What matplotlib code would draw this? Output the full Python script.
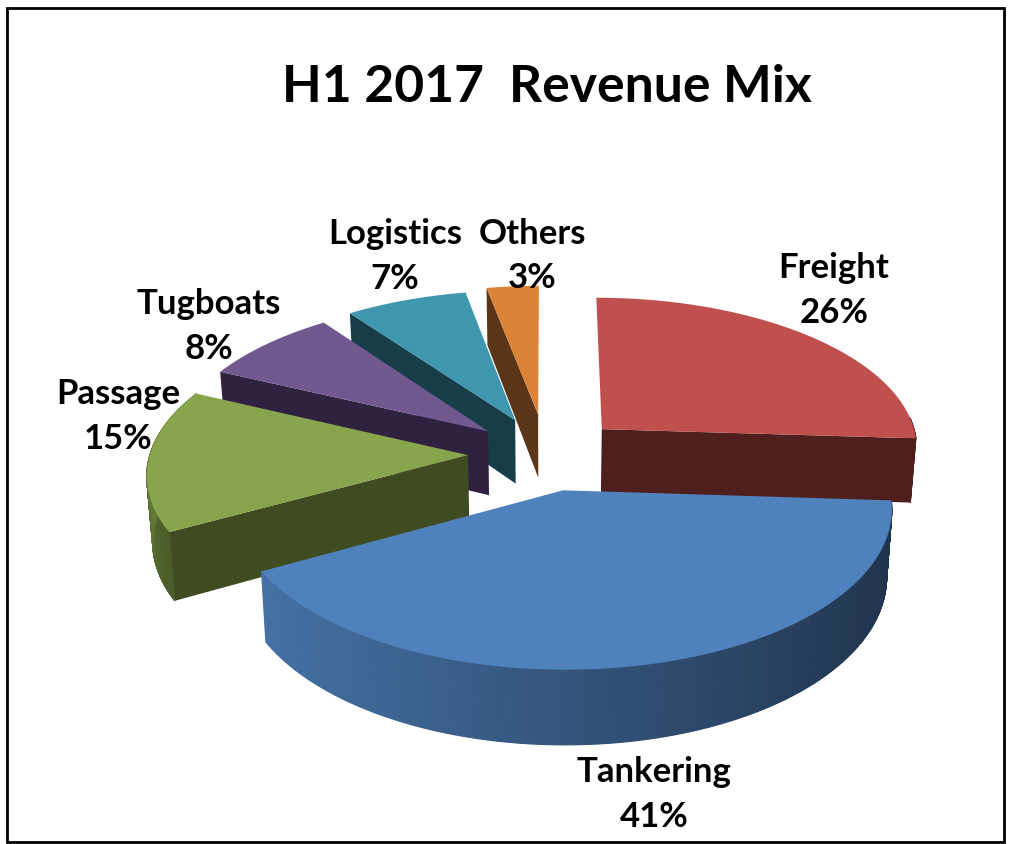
import numpy as np
import matplotlib
matplotlib.use("Agg")
import matplotlib.pyplot as plt
from matplotlib.colors import to_rgb
from matplotlib.patches import Polygon, Rectangle

# data
names = ["Freight", "Tankering", "Passage", "Tugboats", "Logistics", "Others"]
shares = [26, 41, 15, 8, 7, 3]

# styles
top_colors = ["#C0504D", "#4F81BD", "#88A44C", "#71588F", "#3E96AF", "#DB8438"]
face_colors = ["#4F1F1D", "#1F3552", "#3F4B21", "#2E2240", "#173D49", "#5B3517"]
explode = [0.245, 0.24, 0.245, 0.24, 0.25, 0.27]
label_xy = [(834, 291), (654, 795), (118, 417), (209, 327), (395, 257), (532, 256)]

# pie projection, in picture pixels
cx, cy = 546, 455
rx, ry = 318, 151
persp = 0.11
depth = 65


def project(u, v, z=0.0):
    p = 1.0 / (1.0 + persp * v)
    x = cx + rx * u * p * (1 - 0.015 * z)
    y = cy - ry * v * p + depth * z * p
    return x, y


def shade(color, amount):
    return tuple(c * amount for c in to_rgb(color))


fig = plt.figure(figsize=(10.13, 8.45), dpi=100, facecolor="white")
ax = fig.add_axes([0, 0, 1, 1])
ax.set_xlim(0, 1013)
ax.set_ylim(845, 0)
ax.axis("off")
ax.add_patch(Rectangle((7, 9), 997, 834, fc="white", ec="black", lw=2))

# start angle of each slice, clockwise from 12 o'clock
fracs = np.array(shares) / sum(shares) * 2 * np.pi
starts = np.concatenate([[0], np.cumsum(fracs)[:-1]])

# back slices first so the front ones cover them
for i in [5, 4, 3, 2, 0, 1]:
    a0, a1 = starts[i], starts[i] + fracs[i]
    mid = (a0 + a1) / 2
    ou, ov = explode[i] * np.sin(mid), explode[i] * np.cos(mid)
    th = np.linspace(a0, a1, 300)
    us, vs = ou + np.sin(th), ov + np.cos(th)

    # cut face that looks at the viewer
    if i in (2, 3, 4, 5):
        face_u, face_v = us[0], vs[0]
    elif i == 0:
        face_u, face_v = us[-1], vs[-1]
    else:
        face_u = None
    if face_u is not None:
        pts = [project(ou, ov), project(face_u, face_v),
               project(face_u, face_v, 1), project(ou, ov, 1)]
        ax.add_patch(Polygon(pts, fc=face_colors[i], ec="none"))

    # outer wall, cut in strips to get the shading round the rim
    for j in range(len(th) - 1):
        if np.cos(th[j]) > 0.08 and i != 2:
            continue
        if i == 1:
            t = (np.sin((th[j] + th[j + 1]) / 2) + 0.9) / 1.9
            col = shade(top_colors[i], 0.88 - 0.48 * t)
        elif i == 2:
            t = (th[j] - a0) / (a1 - a0)
            col = shade(top_colors[i], 0.55 + 0.35 * t)
        else:
            col = face_colors[i]
        pts = [project(us[j], vs[j]), project(us[j + 1], vs[j + 1]),
               project(us[j + 1], vs[j + 1], 1), project(us[j], vs[j], 1)]
        ax.add_patch(Polygon(pts, fc=col, ec=col, lw=0.8))

    # top of the slice
    pts = [project(ou, ov)] + [project(u, v) for u, v in zip(us, vs)]
    ax.add_patch(Polygon(pts, fc=top_colors[i], ec="none"))

for name, share, (x, y) in zip(names, shares, label_xy):
    ax.text(x, y, f"{name}\n{share}%", ha="center", va="center", family="Lato",
            fontweight="bold", fontsize=25, linespacing=1.5, color="black")

ax.text(547, 88, "H1 2017  Revenue Mix", ha="center", va="center", family="Lato",
        fontweight="bold", fontsize=37.2, color="black")

fig.savefig("out.png", dpi=100)
